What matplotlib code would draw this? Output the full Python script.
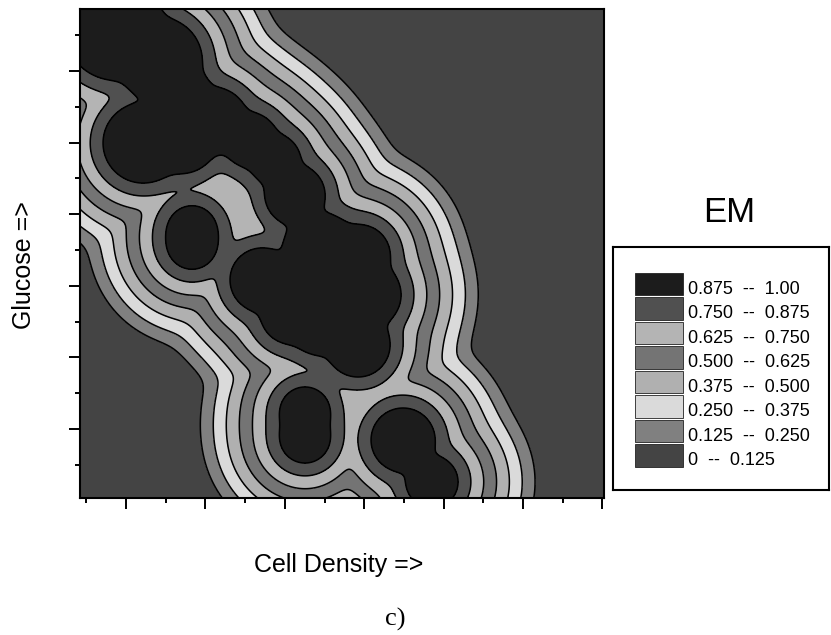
import numpy as np
import matplotlib
matplotlib.use('Agg')
import matplotlib.pyplot as plt
from matplotlib.patches import Rectangle

plt.rcParams['font.family'] = ['Liberation Sans', 'DejaVu Sans']

# EM bands (lowest first) and the grey used for each
levels = [0, 0.125, 0.25, 0.375, 0.5, 0.625, 0.75, 0.875, 1.0]
fills = ['#444444', '#808080', '#dadada', '#b0b0b0',
         '#747474', '#b4b4b4', '#505050', '#1c1c1c']
band_labels = ['0  --  0.125', '0.125  --  0.250', '0.250  --  0.375',
               '0.375  --  0.500', '0.500  --  0.625', '0.625  --  0.750',
               '0.750  --  0.875', '0.875  --  1.00']

# centres of the EM > 0.875 patches (tick units) and their radii (pixels)
peak_x = [0.861, 1.428, 1.743, 1.214, 1.718, 2.121, 2.562, 2.877, 3.128,
          3.443, 3.947, 2.713, 4.048, 3.443, 3.922, 3.065,
          1.831, 1.831, 3.254, 3.254, 4.489, 4.854]
peak_y = [6.573, 6.154, 5.665, 4.994, 5.036, 5.316, 5.036, 4.757, 4.268,
          3.500, 3.430, 3.081, 2.872, 2.453, 2.173, 2.600,
          3.779, 3.570, 1.237, 0.874, 0.846, 0.260]
peak_r = [50, 42, 26, 40, 33, 32, 27, 25, 30,
          37, 30, 32, 33, 30, 32, 29,
          24, 24, 25, 25, 32, 26]
ring_span = 77   # distance from the 0.875 edge to the 0.125 edge, px
blend = 5        # px, softens where neighbouring patches meet

xlim = (0.42, 7.02)
ylim = (0.036, 6.866)

fig = plt.figure(figsize=(8.31, 6.35), dpi=100)
ax = fig.add_axes([80 / 831, 1 - 498 / 635, 524 / 831, 489 / 635])
ax.set_xlim(*xlim)
ax.set_ylim(*ylim)

# pixels per data unit on the drawn axes
sx = ax.bbox.width / (xlim[1] - xlim[0])
sy = ax.bbox.height / (ylim[1] - ylim[0])

xs = np.linspace(xlim[0], xlim[1], 520)
ys = np.linspace(ylim[0], ylim[1], 490)
X, Y = np.meshgrid(xs, ys)
acc = np.zeros_like(X)
for bx, by, br in zip(peak_x, peak_y, peak_r):
    d = np.hypot((X - bx) * sx, (Y - by) * sy) - br
    acc += np.exp(-d / blend)
dist = -blend * np.log(acc)
Z = np.clip(0.875 - 0.75 * dist / ring_span, 0, 0.999)

ax.contourf(X, Y, Z, levels=levels, colors=fills)
ax.contour(X, Y, Z, levels=levels[1:-1], colors='black', linewidths=1.1)

ax.set_xticks(range(1, 8))
ax.set_xticks(np.arange(0.5, 7, 1), minor=True)
ax.set_yticks(range(1, 7))
ax.set_yticks(np.arange(0.5, 7, 1), minor=True)
ax.tick_params(which='both', direction='out', width=1.4,
               labelbottom=False, labelleft=False, colors='black')
ax.tick_params(which='major', length=8)
ax.tick_params(which='minor', length=3.6)
for s in ax.spines.values():
    s.set_linewidth(1.5)

fig.text(24 / 831, 1 - 265 / 635, 'Glucose =>', rotation=90,
         fontsize=18, ha='center', va='center')
fig.text(339 / 831, 1 - 572 / 635, 'Cell Density =>', fontsize=18,
         ha='center', va='baseline')
fig.text(395 / 831, 1 - 626 / 635, 'c)', fontsize=19, family='Liberation Serif',
         ha='center', va='baseline')
fig.text(729 / 831, 1 - 222 / 635, 'EM', fontsize=25,
         ha='center', va='baseline')

# legend box, drawn in pixel units
lax = fig.add_axes([613 / 831, 1 - 490 / 635, 216 / 831, 243 / 635])
lax.set_xlim(613, 829)
lax.set_ylim(490, 247)
lax.set_xticks([])
lax.set_yticks([])
for s in lax.spines.values():
    s.set_linewidth(1.5)

for k in range(8):
    band = 7 - k
    top = 272.7 + 24.5 * k
    lax.add_patch(Rectangle((635, top), 48, 22.5, facecolor=fills[band],
                            edgecolor='#222222', linewidth=0.6))
    lax.text(688, 294 + 24.5 * k, band_labels[band], fontsize=13,
             va='baseline', ha='left')

fig.savefig('out.png', dpi=100)
